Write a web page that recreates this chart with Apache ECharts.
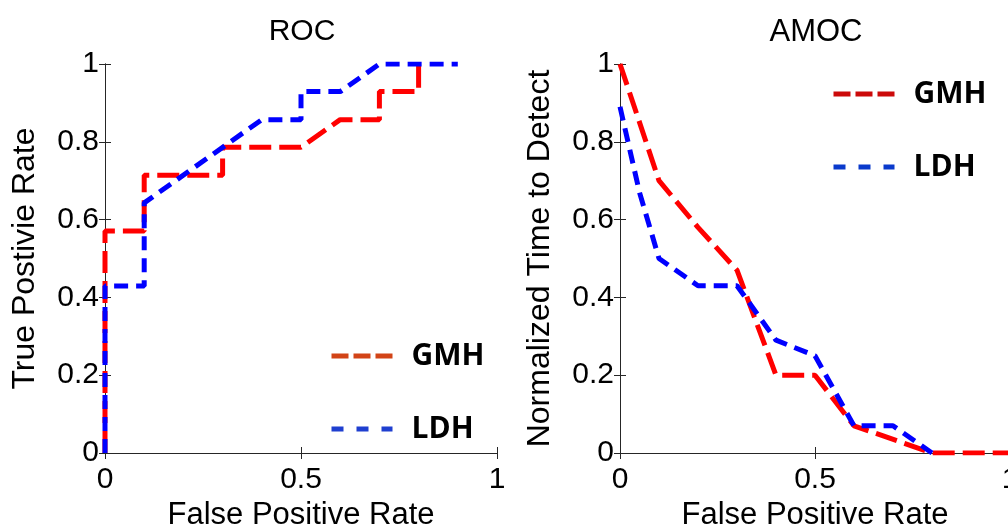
<!DOCTYPE html>
<html>
<head>
<meta charset="utf-8">
<script src="https://cdn.jsdelivr.net/npm/echarts@6/dist/echarts.min.js"></script>
<style>
  html, body { margin: 0; padding: 0; background: #fff; }
  #chart { width: 1008px; height: 527px; }
</style>
</head>
<body>
<div id="chart"></div>
<script>
// ROC curves: [false positive rate, true positive rate]
const rocGMH = [[0, 0], [0, 0.571], [0.1, 0.571], [0.1, 0.714], [0.3, 0.714], [0.3, 0.786], [0.5, 0.786], [0.6, 0.857], [0.7, 0.857], [0.7, 0.929], [0.8, 0.929], [0.8, 1]]
const rocLDH = [[0, 0], [0, 0.429], [0.1, 0.429], [0.1, 0.643], [0.4, 0.857], [0.5, 0.857], [0.5, 0.929], [0.6, 0.929], [0.7, 1], [0.9, 1]]
// AMOC curves: [false positive rate, normalized time to detect]
const amocGMH = [[0, 1], [0.1, 0.7], [0.2, 0.58], [0.3, 0.47], [0.4, 0.2], [0.5, 0.2], [0.6, 0.07], [0.8, 0], [1, 0]]
const amocLDH = [[0, 0.89], [0.05, 0.67], [0.1, 0.5], [0.2, 0.43], [0.3, 0.43], [0.4, 0.29], [0.5, 0.25], [0.6, 0.07], [0.7, 0.07], [0.8, 0]]
const seriesNames = ['GMH', 'LDH']
const titles = ['ROC', 'AMOC']
const xName = 'False Positive Rate'
const yNames = ['True Postivie Rate', 'Normalized Time to Detect']

const font = 'Liberation Sans, Arial, sans-serif'
const axisCol = '#262626'
const red = '#ff0000'
const blue = '#0000ff'

function mainX(idx) {
  return {
    type: 'value', gridIndex: idx, min: 0, max: 1, interval: 0.5,
    name: xName, nameLocation: 'middle', nameGap: 44,
    nameTextStyle: { color: '#000', fontSize: 31, fontFamily: font },
    axisLine: { show: true, lineStyle: { color: axisCol, width: 1 } },
    axisTick: { show: true, inside: true, length: 6, lineStyle: { color: axisCol } },
    axisLabel: { color: '#000', fontSize: 30, fontFamily: font, margin: 12, formatter: v => String(v) },
    splitLine: { show: false }
  }
}
function mainY(idx) {
  return {
    type: 'value', gridIndex: idx, min: 0, max: 1, interval: 0.2,
    name: yNames[idx], nameLocation: 'middle', nameGap: 64, nameRotate: 90,
    nameTextStyle: { color: '#000', fontSize: 32, fontFamily: font },
    axisLine: { show: true, lineStyle: { color: axisCol, width: 1 } },
    axisTick: { show: true, inside: true, length: 6, lineStyle: { color: axisCol } },
    axisLabel: { color: '#000', fontSize: 30, fontFamily: font, margin: 6, formatter: v => String(+v.toFixed(1)) },
    splitLine: { show: false }
  }
}
function boxX(idx) {
  return {
    type: 'value', gridIndex: idx, min: 0, max: 1, interval: 0.5, position: 'top',
    axisLine: { show: true, lineStyle: { color: axisCol, width: 1 } },
    axisTick: { show: true, inside: true, length: 6, lineStyle: { color: axisCol } },
    axisLabel: { show: false }, splitLine: { show: false }
  }
}
function boxY(idx) {
  return {
    type: 'value', gridIndex: idx, min: 0, max: 1, interval: 0.2, position: 'right',
    axisLine: { show: true, lineStyle: { color: axisCol, width: 1 } },
    axisTick: { show: true, inside: true, length: 6, lineStyle: { color: axisCol } },
    axisLabel: { show: false }, splitLine: { show: false }
  }
}
function line(name, data, idx, color, dash) {
  return {
    name: name, type: 'line', data: data,
    xAxisIndex: idx, yAxisIndex: idx,
    symbol: 'none', animation: false,
    lineStyle: { color: color, width: 5, type: dash },
    itemStyle: { color: color }
  }
}
function legendAt(left, top, gmhCol, ldhCol) {
  return {
    orient: 'vertical', left: left, top: top, padding: 0,
    itemWidth: 61, itemHeight: 40, itemGap: 41,
    selectedMode: false,
    textStyle: { color: '#000', fontSize: 30, fontWeight: 'bold', fontFamily: 'Open Sans, sans-serif', padding: [0, 0, 0, 14] },
    data: [
      { name: seriesNames[0], itemStyle: { opacity: 0 }, lineStyle: { color: gmhCol, width: 5, type: [17, 5] } },
      { name: seriesNames[1], itemStyle: { opacity: 0 }, lineStyle: { color: ldhCol, width: 5, type: [12, 13] } }
    ]
  }
}

const chart = echarts.init(document.getElementById('chart'))
chart.setOption({
  animation: false,
  backgroundColor: '#fff',
  title: [
    { text: titles[0], left: 297, top: 12, textAlign: 'center', textStyle: { fontSize: 30, fontWeight: 'normal', fontFamily: font, color: '#000' } },
    { text: titles[1], left: 811, top: 12, textAlign: 'center', textStyle: { fontSize: 31, fontWeight: 'normal', fontFamily: font, color: '#000' } }
  ],
  grid: [
    { left: 105, top: 64, width: 392, height: 389, outerBoundsMode: 'none' },
    { left: 620, top: 64, width: 390, height: 389, outerBoundsMode: 'none' }
  ],
  xAxis: [mainX(0), mainX(1), boxX(0), boxX(1)],
  yAxis: [mainY(0), mainY(1), boxY(0), boxY(1)],
  legend: [
    legendAt(329, 340, '#d24417', '#1f3fd0'),
    legendAt(831, 78, '#cc0a0a', '#0a3acc')
  ],
  series: [
    line(seriesNames[0], rocGMH, 0, red, [22, 8]),
    line(seriesNames[1], rocLDH, 0, blue, [14, 8]),
    line(seriesNames[0], amocGMH, 1, red, [22, 8]),
    line(seriesNames[1], amocLDH, 1, blue, [14, 8])
  ]
})
</script>
</body>
</html>
